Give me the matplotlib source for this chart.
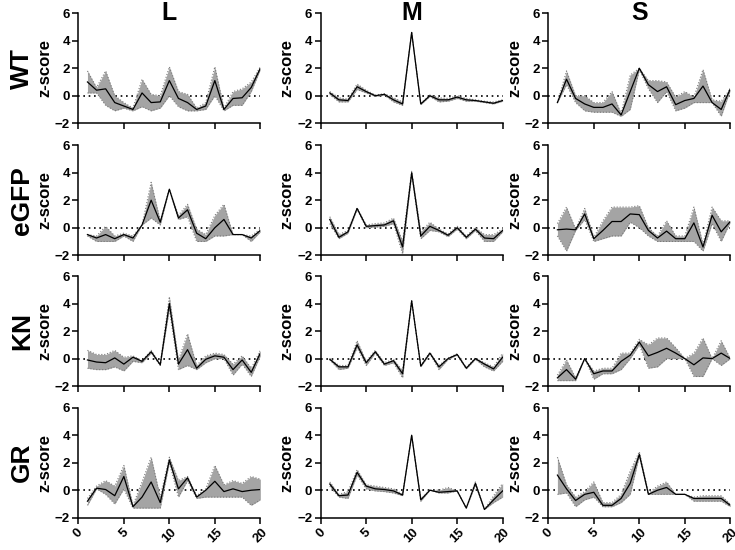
import matplotlib.pyplot as plt

plt.rcParams["font.family"] = ["Liberation Sans", "DejaVu Sans"]
plt.rcParams["font.weight"] = "bold"

x = list(range(1, 21))
rows = ["WT", "eGFP", "KN", "GR"]
cols = ["L", "M", "S"]
xticks = [0, 5, 10, 15, 20]
yticks = [-2, 0, 2, 4, 6]

# WT
wt_l = [1.0, 0.4, 0.5, -0.5, -0.75, -1.0, 0.2, -0.5, -0.45, 1.1, -0.2, -0.5, -1.0, -0.75, 1.1, -1.0, -0.2, -0.15, 0.6, 2.0]
wt_l_hi = [1.8, 0.6, 1.8, 0.0, -0.5, -0.9, 1.2, 0.1, 0.0, 2.1, 0.3, 0.1, -0.9, -0.5, 2.1, -0.9, 0.3, 0.5, 1.0, 2.1]
wt_l_lo = [0.2, 0.2, -0.7, -1.1, -0.9, -1.1, -0.8, -1.1, -0.9, 0.0, -0.8, -1.1, -1.1, -1.0, 0.0, -1.1, -0.7, -0.7, 0.3, 1.9]
wt_m = [0.2, -0.3, -0.35, 0.65, 0.3, 0.0, 0.1, -0.3, -0.6, 4.6, -0.6, 0.0, -0.3, -0.3, -0.1, -0.3, -0.35, -0.45, -0.55, -0.35]
wt_m_hi = [0.3, -0.15, -0.25, 0.85, 0.4, 0.05, 0.15, -0.15, -0.45, 4.6, -0.55, 0.05, -0.15, -0.2, 0.0, -0.2, -0.3, -0.4, -0.45, -0.3]
wt_m_lo = [0.1, -0.45, -0.45, 0.45, 0.2, -0.05, 0.05, -0.45, -0.7, 4.6, -0.65, -0.05, -0.45, -0.4, -0.2, -0.4, -0.4, -0.5, -0.6, -0.4]
wt_s = [-0.5, 1.2, -0.2, -0.6, -0.85, -0.85, -0.6, -1.4, 0.3, 2.0, 0.8, 0.3, 0.65, -0.65, -0.35, -0.2, 0.7, -0.5, -1.0, 0.5]
wt_s_hi = [-0.5, 1.8, 0.0, 0.0, -0.5, -0.5, 0.3, -1.3, 1.5, 2.0, 1.1, 1.1, 1.0, -0.1, 0.3, -0.1, 1.9, -0.3, -0.4, 0.5]
wt_s_lo = [-0.5, 0.8, -0.5, -1.1, -1.2, -1.2, -1.2, -1.5, -1.0, 1.9, 0.5, -0.5, 0.3, -1.1, -0.9, -0.5, -0.5, -0.5, -1.5, 0.4]

# eGFP
egfp_l = [-0.5, -0.75, -0.5, -0.8, -0.5, -0.75, 0.2, 2.0, 0.4, 2.8, 0.7, 1.3, -0.4, -0.8, 0.0, 0.6, -0.5, -0.5, -0.75, -0.2]
egfp_l_hi = [-0.5, -0.6, 0.1, -0.6, -0.4, -0.6, 0.2, 3.3, 0.5, 2.8, 0.9, 1.7, -0.1, -0.5, 0.9, 1.7, -0.5, -0.5, -0.6, -0.1]
egfp_l_lo = [-0.6, -1.0, -1.0, -1.0, -0.6, -1.0, 0.2, 0.7, 0.2, 2.8, 0.6, 0.8, -1.0, -1.0, -0.6, -0.6, -0.5, -0.5, -1.0, -0.3]
egfp_m = [0.6, -0.7, -0.3, 1.4, 0.1, 0.15, 0.2, 0.5, -1.4, 4.0, -0.6, 0.1, -0.2, -0.55, 0.0, -0.7, -0.1, -0.75, -0.8, -0.2]
egfp_m_hi = [0.8, -0.5, -0.2, 1.45, 0.2, 0.3, 0.35, 0.7, -1.0, 4.1, -0.3, 0.4, -0.1, -0.45, 0.1, -0.6, 0.0, -0.5, -0.5, -0.1]
egfp_m_lo = [0.3, -0.8, -0.4, 1.35, 0.0, 0.05, 0.1, 0.3, -1.9, 3.9, -0.8, -0.2, -0.3, -0.65, -0.1, -0.8, -0.2, -1.0, -1.0, -0.3]
egfp_s = [-0.15, -0.1, -0.15, 1.0, -0.8, -0.2, 0.45, 0.45, 1.0, 0.95, -0.2, -0.75, -0.25, -0.8, -0.8, 0.35, -1.4, 0.9, -0.3, 0.45]
egfp_s_hi = [0.3, 1.5, -0.1, 1.4, -0.7, 0.5, 1.5, 1.5, 1.5, 1.6, 0.0, -0.6, 0.5, -0.6, -0.6, 1.5, -1.2, 1.5, 0.5, 0.5]
egfp_s_lo = [-0.6, -1.7, -0.2, 0.6, -1.0, -0.8, -0.6, -0.6, 0.4, 0.0, -0.6, -1.0, -1.0, -1.0, -1.0, -1.0, -1.7, 0.3, -1.0, 0.4]

# KN
kn_l = [-0.1, -0.25, -0.3, 0.05, -0.4, 0.1, -0.2, 0.5, -0.45, 4.0, -0.4, 0.65, -0.7, -0.05, 0.2, 0.1, -0.8, -0.1, -1.0, 0.4]
kn_l_hi = [0.6, 0.3, 0.3, 0.6, 0.1, 0.2, -0.15, 0.6, -0.4, 4.5, -0.1, 1.8, -0.5, 0.2, 0.4, 0.3, -0.4, 0.2, -0.7, 0.6]
kn_l_lo = [-0.7, -0.8, -0.8, -0.6, -0.9, -0.2, -0.3, 0.4, -0.5, 3.6, -0.8, -0.5, -0.8, -0.3, 0.0, 0.0, -1.2, -0.4, -1.3, 0.2]
kn_m = [-0.05, -0.6, -0.6, 1.0, -0.3, 0.5, -0.4, -0.15, -1.1, 4.2, -0.55, 0.4, -0.6, 0.0, 0.3, -0.7, 0.0, -0.4, -0.75, 0.1]
kn_m_hi = [0.0, -0.5, -0.5, 1.3, -0.2, 0.6, -0.3, -0.05, -0.9, 4.2, -0.5, 0.45, -0.5, 0.05, 0.35, -0.65, 0.05, -0.3, -0.6, 0.4]
kn_m_lo = [-0.1, -0.8, -0.7, 0.8, -0.5, 0.4, -0.5, -0.3, -1.4, 4.2, -0.6, 0.35, -0.8, -0.05, 0.25, -0.75, -0.05, -0.6, -0.9, -0.2]
kn_s = [-1.4, -0.8, -1.5, 0.0, -1.1, -0.9, -0.9, -0.2, 0.25, 1.2, 0.2, 0.45, 0.75, 0.4, 0.0, -0.45, 0.05, 0.0, 0.4, 0.0]
kn_s_hi = [-1.2, -0.1, -1.4, 0.0, -0.9, -0.7, -0.7, 0.4, 0.4, 1.4, 1.0, 1.5, 1.5, 0.8, 0.0, 0.4, 1.5, 0.0, 1.3, 0.0]
kn_s_lo = [-1.6, -1.6, -1.6, 0.0, -1.5, -1.1, -1.1, -0.8, 0.0, 1.0, -0.7, -0.6, 0.0, 0.0, 0.0, -1.3, -1.3, 0.0, -0.5, 0.0]

# GR
gr_l = [-0.8, 0.15, 0.05, -0.4, 1.0, -1.2, -0.5, 0.6, -0.9, 2.2, 0.1, 0.9, -0.5, 0.0, 0.65, -0.1, 0.1, -0.1, 0.0, 0.05]
gr_l_hi = [-0.6, 0.3, 0.7, 0.3, 1.8, -1.1, 0.6, 2.4, -0.5, 2.4, 0.7, 1.0, -0.4, 0.1, 1.8, 0.4, 0.7, 0.5, 1.0, 0.8]
gr_l_lo = [-1.1, 0.1, -0.3, -1.0, 0.1, -1.3, -1.3, -1.3, -1.3, 2.0, -0.5, 0.7, -0.6, -0.5, -0.5, -0.5, -0.5, -0.5, -1.1, -0.7]
gr_m = [0.45, -0.4, -0.35, 1.3, 0.3, 0.1, 0.05, -0.05, -0.35, 4.0, -0.7, 0.0, -0.15, -0.1, -0.05, -1.3, 0.5, -1.4, -0.7, -0.05]
gr_m_hi = [0.6, -0.3, -0.1, 1.5, 0.4, 0.3, 0.2, 0.1, -0.3, 4.0, -0.6, 0.0, 0.0, 0.2, -0.05, -1.3, 0.6, -1.4, -0.4, 0.5]
gr_m_lo = [0.3, -0.5, -0.6, 1.1, 0.1, -0.05, -0.1, -0.2, -0.4, 4.0, -0.8, 0.0, -0.2, -0.2, -0.05, -1.3, 0.4, -1.4, -0.9, -0.5]
gr_s = [1.1, 0.1, -0.75, -0.3, -0.15, -1.1, -1.1, -0.6, 0.5, 2.6, -0.3, 0.0, 0.2, -0.3, -0.3, -0.6, -0.6, -0.6, -0.6, -1.1]
gr_s_hi = [2.4, 0.4, -0.5, -0.1, 0.6, -0.9, -0.9, -0.3, 1.4, 2.8, -0.2, 0.3, 0.6, -0.3, -0.3, -0.5, -0.4, -0.4, -0.4, -1.0]
gr_s_lo = [-0.3, -0.2, -1.2, -0.7, -0.5, -1.2, -1.2, -0.9, -0.3, 2.5, -0.3, -0.3, -0.3, -0.3, -0.3, -0.8, -0.8, -0.8, -0.8, -1.2]

panels = [
    [(wt_l, wt_l_hi, wt_l_lo), (wt_m, wt_m_hi, wt_m_lo), (wt_s, wt_s_hi, wt_s_lo)],
    [(egfp_l, egfp_l_hi, egfp_l_lo), (egfp_m, egfp_m_hi, egfp_m_lo), (egfp_s, egfp_s_hi, egfp_s_lo)],
    [(kn_l, kn_l_hi, kn_l_lo), (kn_m, kn_m_hi, kn_m_lo), (kn_s, kn_s_hi, kn_s_lo)],
    [(gr_l, gr_l_hi, gr_l_lo), (gr_m, gr_m_hi, gr_m_lo), (gr_s, gr_s_hi, gr_s_lo)],
]

fig = plt.figure(figsize=(7.35, 5.5), dpi=100)

lefts = [0.1066, 0.4363, 0.746]
bottoms = [0.776, 0.536, 0.298, 0.0587]
w, h = 0.2476, 0.2

for r in range(4):
    for c in range(3):
        ax = fig.add_axes([lefts[c], bottoms[r], w, h])
        mean, hi, lo = panels[r][c]
        ax.fill_between(x, lo, hi, color="#a4a4a4", lw=0)
        ax.plot(x, hi, color="#7a7a7a", lw=0.8, ls=":")
        ax.plot(x, lo, color="#7a7a7a", lw=0.8, ls=":")
        ax.plot(x, mean, color="black", lw=0.9)
        ax.axhline(0, color="black", lw=1.2, ls=(0, (1, 2.2)), zorder=0.5)
        ax.set_xlim(0, 20)
        ax.set_ylim(-2, 6)
        ax.set_xticks(xticks)
        ax.set_yticks(yticks)
        for s in ["top", "right"]:
            ax.spines[s].set_visible(False)
        for s in ["left", "bottom"]:
            ax.spines[s].set_linewidth(1.1)
        ax.tick_params(width=1.1, length=4, labelsize=9.5, pad=2)
        ax.set_ylabel("z-score", fontsize=12, fontweight="bold", labelpad=2)
        for lab in ax.get_yticklabels():
            lab.set_fontweight("bold")
        if r == 3:
            ax.set_xticklabels([str(t) for t in xticks], rotation=45, fontweight="bold", fontsize=9.5)
        else:
            ax.set_xticklabels([])
        if r == 0:
            ax.text(0.5, 1.0, cols[c], transform=ax.transAxes, ha="center", va="center",
                    fontsize=18, fontweight="bold")
        if c == 0:
            fig.text(0.03, bottoms[r] + h / 2, rows[r], rotation=90, ha="center", va="center",
                     fontsize=19, fontweight="bold")

fig.savefig("out.png", dpi=100)
